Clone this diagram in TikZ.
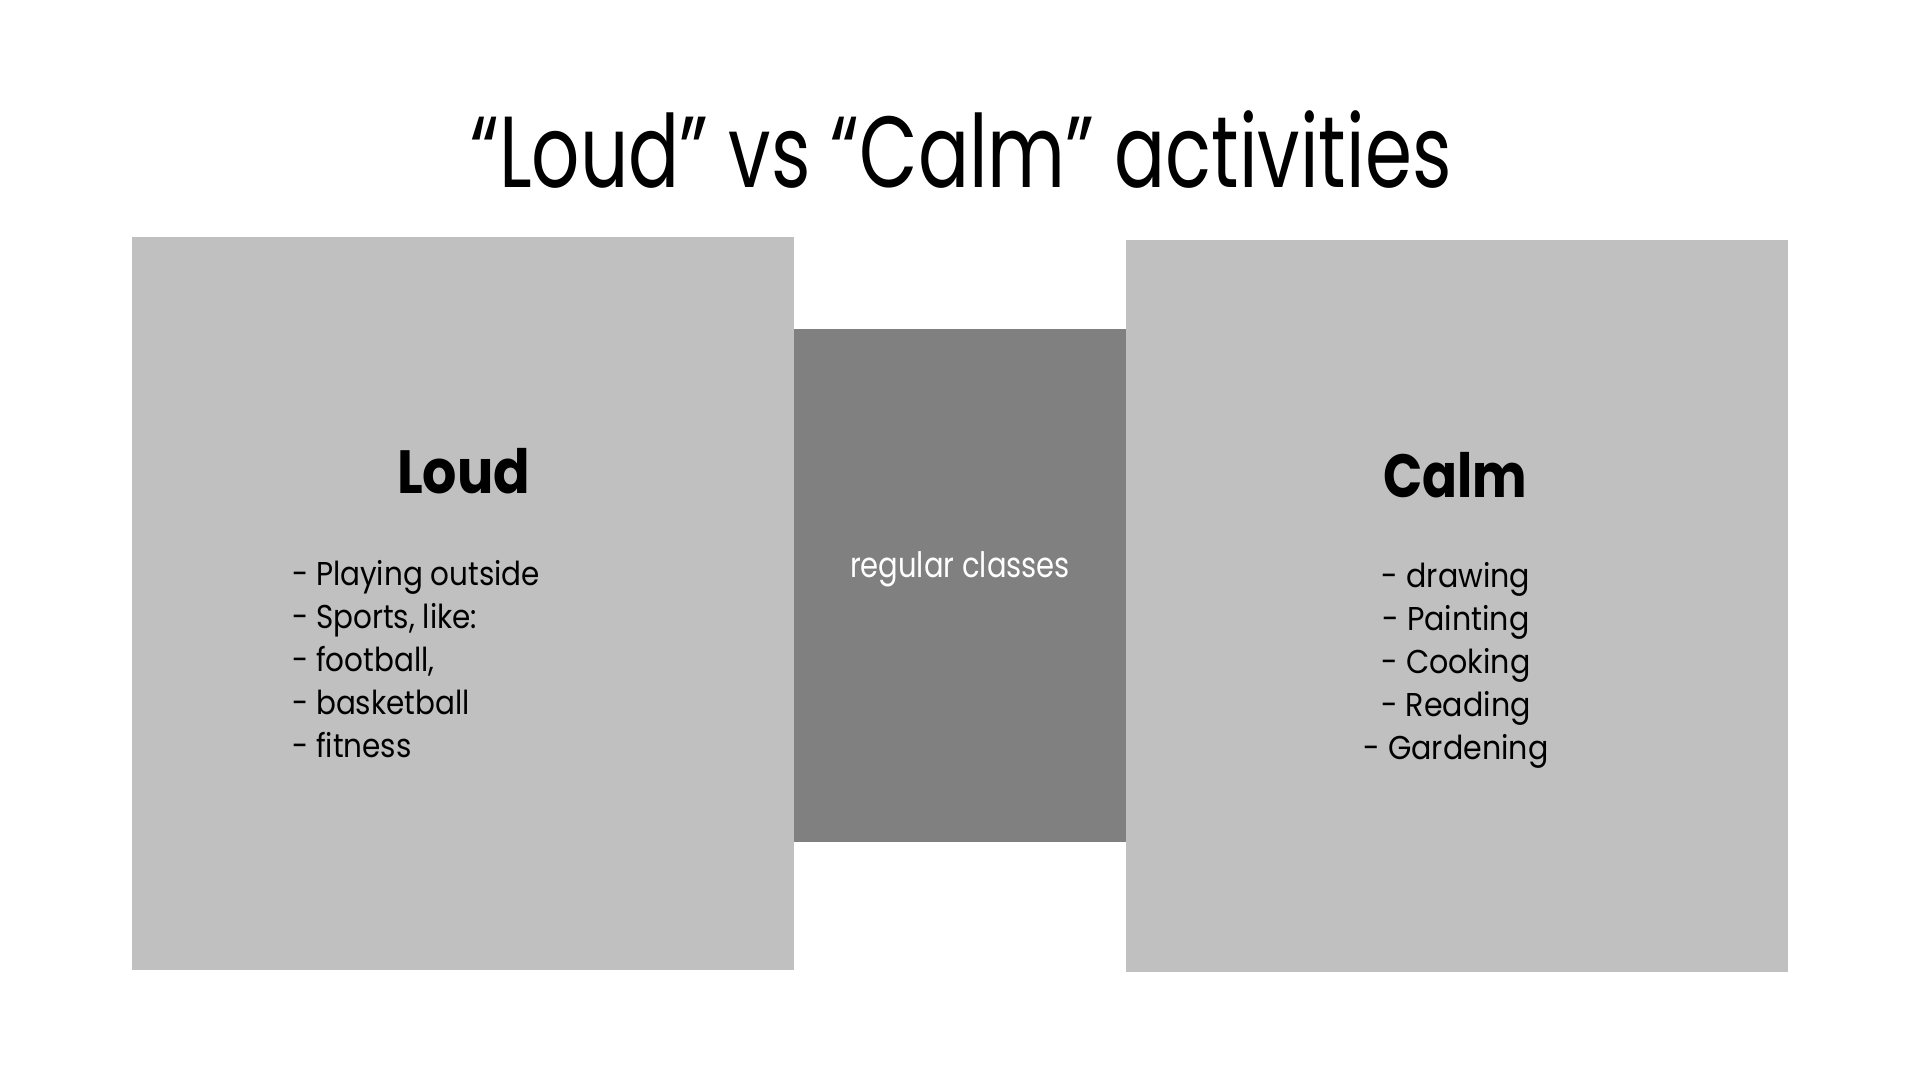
\documentclass[tikz,border=0pt]{standalone}
\usepackage{fontspec}
\setmainfont{Poppins}
\usepackage{graphicx}
\definecolor{panelgray}{RGB}{192,192,192}
\definecolor{middlegray}{RGB}{128,128,128}
\tikzset{
  panel/.style={draw=none, fill=panelgray, inner sep=0pt, outer sep=0pt, anchor=north west},
  midpanel/.style={draw=none, fill=middlegray, inner sep=0pt, outer sep=0pt, anchor=north west},
  txt/.style={inner sep=0pt, outer sep=0pt, text=black}
}
\begin{document}
\begin{tikzpicture}[x=1pt,y=-1pt]
\fill[white] (0,0) rectangle (1920,1080);
\useasboundingbox (0,0) rectangle (1920,1080);
% panels
\node[panel, minimum width=662pt, minimum height=733pt] (loud) at (132,237) {};
\node[panel, minimum width=662pt, minimum height=732pt] (calm) at (1126,240) {};
\node[midpanel, minimum width=332pt, minimum height=513pt] (regular) at (794,329) {};
% title
\node[txt, anchor=base] (title) at (961,187)
  {\resizebox{981pt}{\height}{\fontsize{101}{101}\selectfont “Loud” vs “Calm” activities}};
% headings
\node[txt, anchor=base] (loudhead) at (463.5,493)
  {\resizebox{133pt}{\height}{\fontsize{61}{61}\selectfont\bfseries Loud}};
\node[txt, anchor=base] (calmhead) at (1455,497)
  {\resizebox{144pt}{\height}{\fontsize{61}{61}\selectfont\bfseries Calm}};
% lists
\node[txt, anchor=base west] (loudlist) at (292,585)
  {\resizebox{248pt}{\height}{\fontsize{33}{43}\selectfont
   \begin{tabular}[t]{@{}l@{}}
   - Playing outside\\
   - Sports, like:\\
   - football,\\
   - basketball\\
   - fitness
   \end{tabular}}};
\node[txt, anchor=base] (calmlist) at (1456,587)
  {\resizebox{185pt}{\height}{\fontsize{33}{43}\selectfont
   \begin{tabular}[t]{@{}c@{}}
   - drawing\\
   - Painting\\
   - Cooking\\
   - Reading\\
   - Gardening
   \end{tabular}}};
% middle label
\node[txt, anchor=base, text=white] (reglabel) at (960,577)
  {\resizebox{220pt}{\height}{\fontsize{35}{35}\selectfont regular classes}};
\end{tikzpicture}
\end{document}
